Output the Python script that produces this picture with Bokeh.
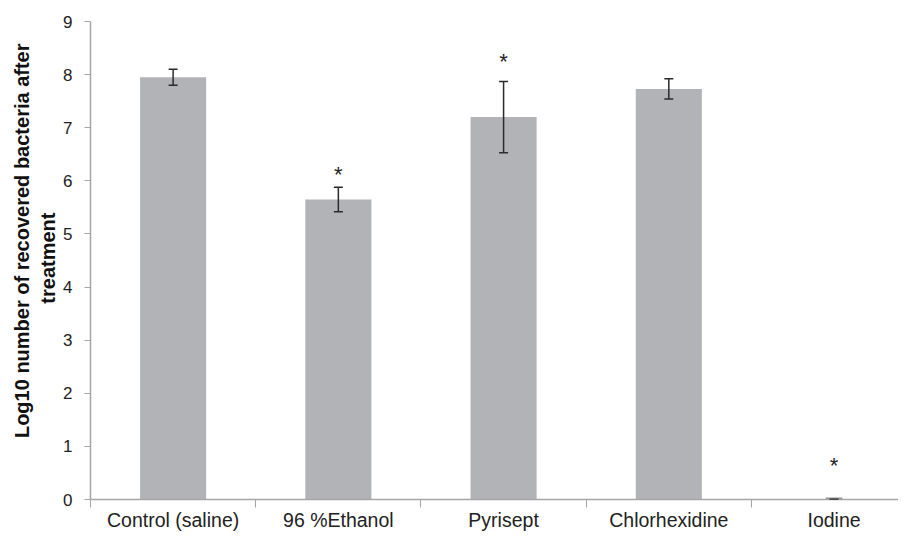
from bokeh.plotting import figure
from bokeh.models import ColumnDataSource, Whisker, TeeHead, FixedTicker, Range1d, Title
from bokeh.embed import file_html
from bokeh.resources import INLINE
from bokeh.core.properties import value

categories = ["Control (saline)", "96 %Ethanol", "Pyrisept", "Chlorhexidine", "Iodine"]
means = [7.95, 5.65, 7.2, 7.73, 0.0]
errors = [0.15, 0.23, 0.67, 0.19, 0.0]
significant = [False, True, True, False, True]
star_y = [None, 6.12, 8.25, None, 0.64]
y_ticks = [0, 1, 2, 3, 4, 5, 6, 7, 8, 9]
y_title_lines = ["Log10 number of recovered bacteria after", "treatment"]

xs = list(range(len(categories)))
src = ColumnDataSource(dict(
    x=xs, top=means,
    upper=[m + e for m, e in zip(means, errors)],
    lower=[m - e for m, e in zip(means, errors)],
))
star_src = ColumnDataSource(dict(
    x=[x for x, s in zip(xs, significant) if s],
    y=[y for y, s in zip(star_y, significant) if s],
    t=["*" for s in significant if s],
))

FONT = "Liberation Sans"
p = figure(width=898, height=533, output_backend="svg", toolbar_location=None,
           x_range=Range1d(-0.5, 4.39), y_range=Range1d(0, 9),
           min_border_left=90, min_border_right=0, min_border_top=21, min_border_bottom=20)
p.outline_line_color = None
p.grid.grid_line_color = None
p.background_fill_color = "white"
p.border_fill_color = "white"

p.vbar(x="x", top="top", width=0.4, bottom=0, source=src,
       fill_color="#b2b3b7", line_color=None)
p.vbar(x=[4], top=[0.04], width=0.1, bottom=0, fill_color="#8e8f93", line_color=None)

w = Whisker(base="x", upper="upper", lower="lower", source=src,
            line_color="#2b2b2b", line_width=1.5, level="overlay",
            upper_head=TeeHead(size=9, line_color="#2b2b2b", line_width=1.5),
            lower_head=TeeHead(size=9, line_color="#2b2b2b", line_width=1.5))
p.add_layout(w)

p.text(x="x", y="y", text="t", source=star_src, text_align="center",
       text_baseline="middle", text_font=value(FONT), text_font_size="22px",
       text_color="#222222")

# y axis title: two left-side titles (inner line first), aligned from the top
for line, so, off in zip(reversed(y_title_lines), [4, 0], [191, 22]):
    p.add_layout(Title(text=line, align="right", offset=off, standoff=so,
                       text_font=FONT, text_font_style="bold",
                       text_font_size="20px", text_color="#111111"), "left")

# x axis
xa = p.xaxis[0]
xa.ticker = FixedTicker(ticks=xs, minor_ticks=[-0.5, 0.5, 1.5, 2.5, 3.5])
xa.major_label_overrides = {i: c for i, c in enumerate(categories)}
xa.major_tick_line_color = None
xa.major_tick_out = 0
xa.major_tick_in = 0
xa.minor_tick_line_color = "#a6a6a6"
xa.minor_tick_out = 8
xa.minor_tick_in = 0
xa.axis_line_color = "#a6a6a6"
xa.axis_line_width = 1.5
xa.major_label_text_font = FONT
xa.major_label_text_font_size = "19.5px"
xa.major_label_text_color = "#222222"
xa.major_label_standoff = 1

ya = p.yaxis[0]
ya.ticker = FixedTicker(ticks=y_ticks)
ya.minor_tick_line_color = None
ya.major_tick_line_color = "#a6a6a6"
ya.major_tick_out = 6
ya.major_tick_in = 0
ya.axis_line_color = "#a6a6a6"
ya.axis_line_width = 1.5
ya.major_label_text_font = FONT
ya.major_label_text_font_size = "17px"
ya.major_label_text_color = "#222222"
ya.major_label_standoff = 12

open("out.html", "w").write(file_html(p, INLINE))
